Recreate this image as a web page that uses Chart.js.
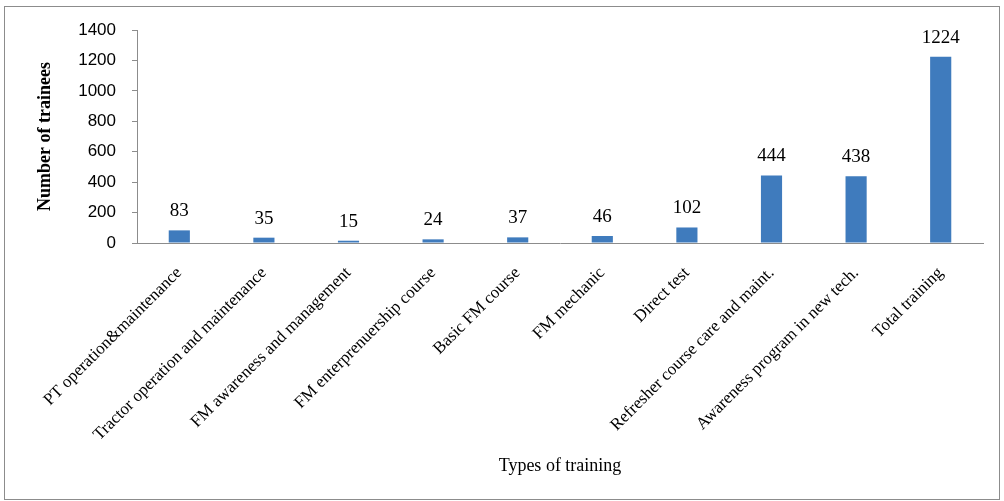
<!DOCTYPE html>
<html>
<head>
<meta charset="utf-8">
<script src="https://cdn.jsdelivr.net/npm/chart.js@4/dist/chart.umd.min.js"></script>
<style>
html,body{margin:0;padding:0;background:#fff;}
#box{position:absolute;left:4px;top:6px;width:994px;height:492px;border:1px solid #8c8c8c;background:#fff;}
#c{display:block;}
</style>
</head>
<body>
<div id="box"><canvas id="c" width="994" height="492"></canvas></div>
<script>
const categories = [
  "PT operation&maintenance",
  "Tractor operation and maintenance",
  "FM awareness and management",
  "FM enterprenuership course",
  "Basic FM course",
  "FM mechanic",
  "Direct test",
  "Refresher course care and maint.",
  "Awareness program in new tech.",
  "Total training"
];
const trainees = [83, 35, 15, 24, 37, 46, 102, 444, 438, 1224];
const yTicks = [0, 200, 400, 600, 800, 1000, 1200, 1400];

const labelPlugin = {
  id: 'valueLabels',
  afterDatasetsDraw(chart) {
    const ctx = chart.ctx;
    const meta = chart.getDatasetMeta(0);
    ctx.save();
    ctx.font = '19px "Liberation Serif", "DejaVu Serif", serif';
    ctx.fillStyle = '#000';
    ctx.textAlign = 'center';
    ctx.textBaseline = 'alphabetic';
    meta.data.forEach((el, i) => {
      ctx.fillText(String(trainees[i]), el.x, el.y - 14);
    });
    ctx.restore();
  }
};

new Chart(document.getElementById('c'), {
  type: 'bar',
  data: {
    labels: categories,
    datasets: [{
      data: trainees,
      backgroundColor: '#3f7bbd',
      borderWidth: 0,
      barPercentage: 0.25,
      categoryPercentage: 1.0
    }]
  },
  options: {
    responsive: false,
    animation: false,
    events: [],
    plugins: { legend: { display: false }, tooltip: { enabled: false } },
    layout: { padding: { top: 23, right: 16, left: 30, bottom: 0 } },
    scales: {
      y: {
        min: 0, max: 1400,
        afterBuildTicks(scale) { scale.ticks = yTicks.map(v => ({ value: v })); },
        afterFit(scale) { scale.width = 102; scale.paddingTop = 0; },
        ticks: {
          font: { family: '"Liberation Sans", Arial, sans-serif', size: 17 },
          color: '#000',
          padding: 16,
          callback: (v) => String(v)
        },
        grid: { display: true, drawOnChartArea: false, drawTicks: true, tickLength: 5, color: '#8c8c8c' },
        border: { display: true, color: '#8c8c8c' },
        title: {
          display: true,
          text: 'Number of trainees',
          font: { family: '"Liberation Serif", "DejaVu Serif", serif', size: 18, weight: 'bold' },
          color: '#000',
          padding: { top: 0, bottom: 0 }
        }
      },
      x: {
        afterFit(scale) { scale.height = 256; },
        ticks: {
          autoSkip: false,
          maxRotation: 45,
          minRotation: 45,
          font: { family: '"Liberation Serif", "DejaVu Serif", serif', size: 17 },
          color: '#000',
          padding: 12
        },
        grid: { display: false },
        border: { display: true, color: '#8c8c8c' },
        title: {
          display: true,
          text: 'Types of training',
          font: { family: '"Liberation Serif", "DejaVu Serif", serif', size: 18 },
          color: '#000',
          padding: { top: 4, bottom: 22 }
        }
      }
    }
  },
  plugins: [labelPlugin]
});
</script>
</body>
</html>
